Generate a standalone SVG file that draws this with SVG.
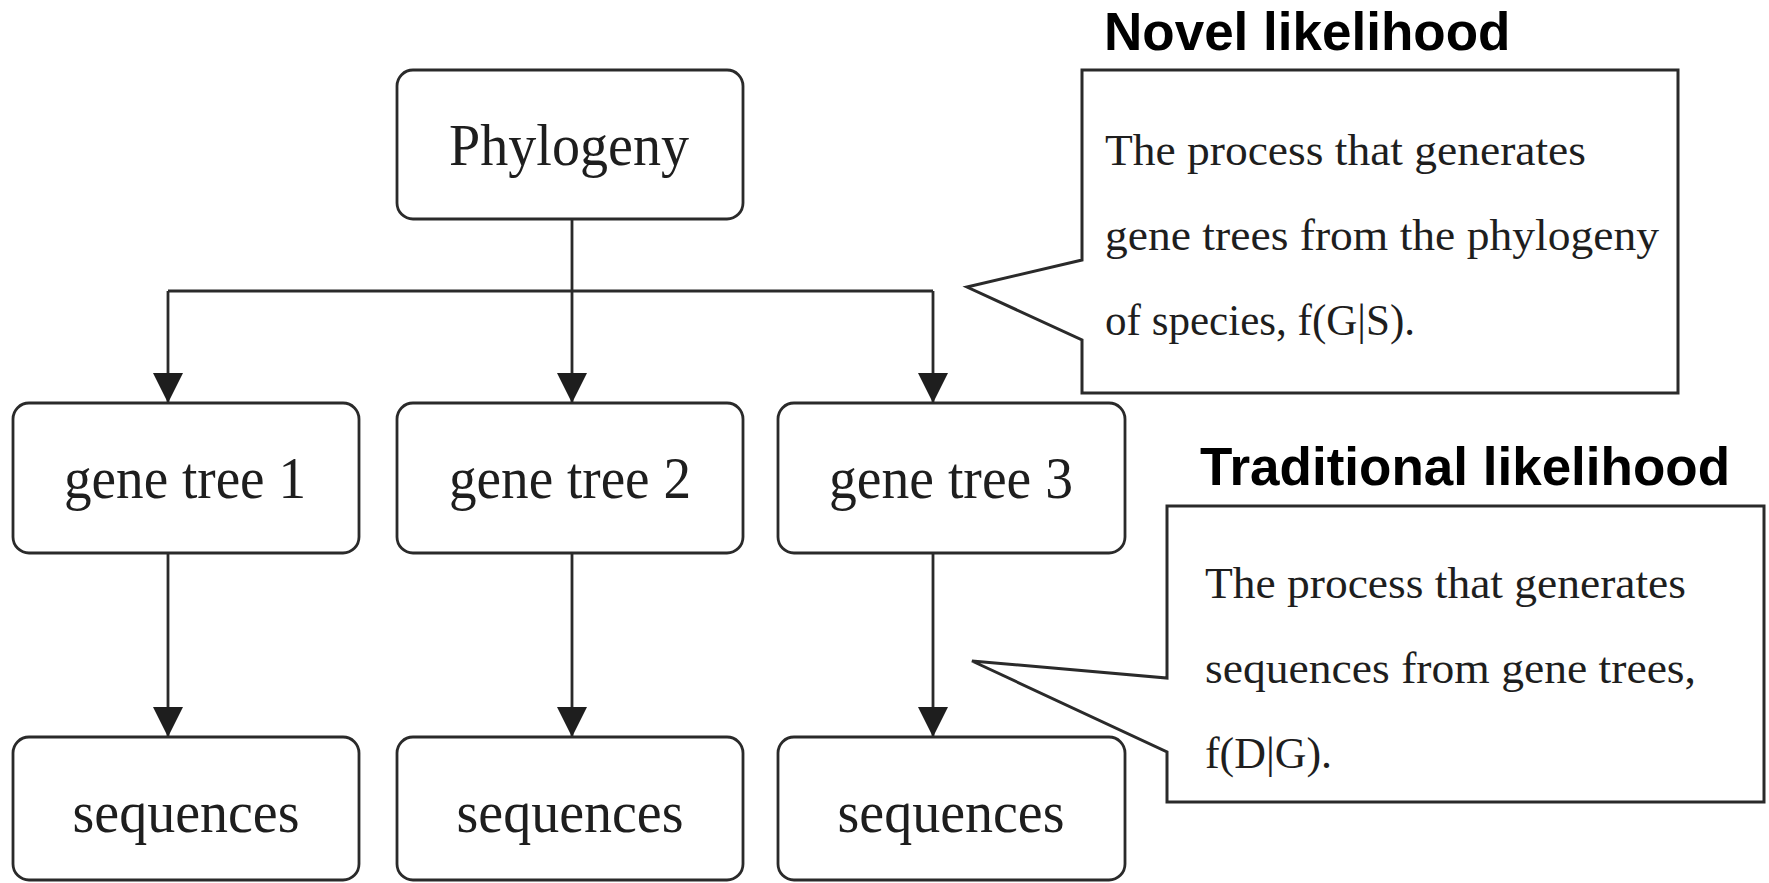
<svg xmlns="http://www.w3.org/2000/svg" width="1769" height="883" viewBox="0 0 1769 883">
<style>
.box{fill:#fff;stroke:#2a2a2a;stroke-width:2.8}
.call{fill:#fff;stroke:#2a2a2a;stroke-width:3;stroke-linejoin:miter}
.lbl{font-family:"Liberation Serif","Times New Roman",serif;font-size:60px;fill:#1e1e1e;text-anchor:middle}
.body{font-family:"Liberation Serif","Times New Roman",serif;font-size:45px;fill:#1e1e1e}
.title{font-family:"Liberation Sans",Arial,sans-serif;font-weight:bold;font-size:53px;fill:#000}
.edge{fill:none;stroke:#2a2a2a;stroke-width:2.8}
</style>
<defs>
<marker id="arr" markerUnits="userSpaceOnUse" markerWidth="30" markerHeight="30" viewBox="0 0 28 28" refX="28" refY="14" orient="auto">
<path d="M0,0 L28,14 L0,28 Z" fill="#1e1e1e"/>
</marker>
</defs>
<rect width="1769" height="883" fill="#fff"/>
<g id="connectors">
<path class="edge" d="M572,219 V403" marker-end="url(#arr)"/>
<path class="edge" d="M168,291 H933"/>
<path class="edge" d="M168,291 V403" marker-end="url(#arr)"/>
<path class="edge" d="M933,291 V403" marker-end="url(#arr)"/>
<path class="edge" d="M168,553 V737" marker-end="url(#arr)"/>
<path class="edge" d="M572,553 V737" marker-end="url(#arr)"/>
<path class="edge" d="M933,553 V737" marker-end="url(#arr)"/>
</g>
<g id="phylogeny">
<rect class="box" x="397" y="70" width="346" height="149" rx="16"/>
<text class="lbl" x="569" y="165" textLength="240" lengthAdjust="spacingAndGlyphs">Phylogeny</text>
</g>
<g id="gene-tree-1">
<rect class="box" x="13" y="403" width="346" height="150" rx="16"/>
<text class="lbl" x="185" y="498" textLength="242" lengthAdjust="spacingAndGlyphs">gene tree 1</text>
</g>
<g id="gene-tree-2">
<rect class="box" x="397" y="403" width="346" height="150" rx="16"/>
<text class="lbl" x="570" y="498" textLength="242" lengthAdjust="spacingAndGlyphs">gene tree 2</text>
</g>
<g id="gene-tree-3">
<rect class="box" x="778" y="403" width="347" height="150" rx="16"/>
<text class="lbl" x="951" y="498" textLength="244" lengthAdjust="spacingAndGlyphs">gene tree 3</text>
</g>
<g id="sequences-1">
<rect class="box" x="13" y="737" width="346" height="143" rx="16"/>
<text class="lbl" x="186" y="832" textLength="227" lengthAdjust="spacingAndGlyphs">sequences</text>
</g>
<g id="sequences-2">
<rect class="box" x="397" y="737" width="346" height="143" rx="16"/>
<text class="lbl" x="570" y="832" textLength="227" lengthAdjust="spacingAndGlyphs">sequences</text>
</g>
<g id="sequences-3">
<rect class="box" x="778" y="737" width="347" height="143" rx="16"/>
<text class="lbl" x="951" y="832" textLength="227" lengthAdjust="spacingAndGlyphs">sequences</text>
</g>
<g id="novel-likelihood">
<text class="title" x="1104" y="50">Novel likelihood</text>
<path class="call" d="M1082,70 H1678 V393 H1082 V340 L967,287 L1082,260 Z"/>
<text class="body" x="1105" y="165" textLength="481" lengthAdjust="spacingAndGlyphs">The process that generates</text>
<text class="body" x="1105" y="250" textLength="554" lengthAdjust="spacingAndGlyphs">gene trees from the phylogeny</text>
<text class="body" x="1105" y="335" textLength="310" lengthAdjust="spacingAndGlyphs">of species, f(G|S).</text>
</g>
<g id="traditional-likelihood">
<text class="title" x="1200" y="485">Traditional likelihood</text>
<path class="call" d="M1167,506 H1764 V802 H1167 V752 L972,661 L1167,678 Z"/>
<text class="body" x="1205" y="598" textLength="481" lengthAdjust="spacingAndGlyphs">The process that generates</text>
<text class="body" x="1205" y="683" textLength="491" lengthAdjust="spacingAndGlyphs">sequences from gene trees,</text>
<text class="body" x="1205" y="768" textLength="127" lengthAdjust="spacingAndGlyphs">f(D|G).</text>
</g>
</svg>
